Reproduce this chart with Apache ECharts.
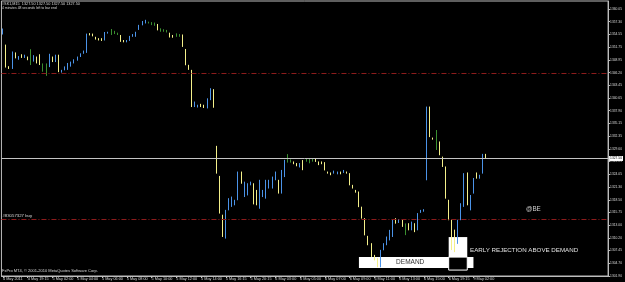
<!DOCTYPE html>
<html><head><meta charset="utf-8">
<script src="https://cdn.jsdelivr.net/npm/echarts@6/dist/echarts.min.js"></script>
<style>html,body{margin:0;padding:0;background:#000}#c{width:625px;height:282px}</style>
</head><body><div id="c"></div>
<script>
const xTickLabels = ["4 May 2011","4 May 19:15","5 May 02:00","5 May 04:00","5 May 06:00","5 May 08:00","5 May 10:00","5 May 12:00","5 May 14:00","5 May 16:15","5 May 20:15","6 May 03:00","6 May 05:00","6 May 07:00","6 May 09:00","6 May 11:00","6 May 13:00","6 May 15:00","6 May 19:15","9 May 02:00"];
const yTickLabels = [1301.90,1304.70,1307.45,1310.20,1313.00,1315.75,1318.50,1321.30,1324.05,1326.85,1329.60,1332.35,1335.15,1337.90,1340.65,1343.45,1346.20,1348.95,1351.75,1354.55,1357.30,1360.05];

const openP = [
1354.6,1352.2,1347.5,1347.1,1350.6,1349.1,1350.2,1349.5,1349.65,1349.3,
1348.95,1349.65,1348.95,1347.3,1346.5,1347.5,1349.65,1348.6,1350.0,1346.3,
1346.75,1346.9,1347.6,1348.2,1348.8,1349.65,1350.4,1350.5,1354.75,1354.6,
1354.0,1353.65,1353.65,1353.3,1354.75,1355.0,1354.9,1354.6,1354.4,1353.3,
1352.9,1353.15,1354.0,1354.0,1355.6,1356.55,1356.9,1357.1,1356.9,1356.75,
1356.8,1355.6,1355.4,1355.2,1354.9,1354.4,1354.2,1354.3,1354.4,1351.3,
1347.85,1346.75,1338.75,1338.65,1339.35,1339.1,1338.4,1340.2,1342.55,1330.2,
1323.65,1315.2,1310.1,1316.25,1317.0,1317.35,1318.45,1324.6,1319.15,1319.5,
1321.7,1322.05,1320.6,1316.6,1319.15,1318.8,1321.0,1321.0,1322.8,1322.8,
1319.9,1323.5,1327.6,1326.9,1326.8,1326.45,1325.6,1326.3,1327.3,1327.1,
1327.2,1327.5,1326.8,1326.8,1326.65,1324.6,1324.4,1324.25,1324.1,1324.6,
1324.4,1324.6,1324.25,1321.7,1320.6,1320.25,1316.95,1314.45,1310.6,1309.0,
1306.45,1305.75,1303.85,1307.55,1308.65,1309.7,1310.45,1314.45,1313.5,1314.25,
1313.0,1313.35,1311.9,1313.35,1311.9,1315.7,1315.95,1322.8,1338.75,1332.0,
1331.0,1331.15,1327.85,1325.7,1318.45,1314.1,1311.9,1309.0,1314.1,1317.0,
1324.4,1316.25,1319.9,1324.4,1323.15,1324.25,1328.45];
const closeP = [
1355.7,1347.4,1347.1,1350.8,1349.3,1349.65,1349.5,1350.0,1348.95,1349.3,
1349.45,1348.2,1348.1,1347.3,1346.5,1350.25,1348.6,1350.0,1346.4,1346.75,
1347.5,1348.2,1348.6,1349.1,1349.65,1350.4,1351.0,1354.6,1354.4,1354.2,
1353.45,1353.3,1353.15,1355.0,1355.05,1355.0,1354.9,1354.6,1352.9,1352.9,
1353.2,1354.2,1354.6,1355.1,1356.55,1357.4,1357.65,1357.1,1356.9,1356.75,
1355.5,1355.6,1355.4,1355.2,1353.9,1353.9,1354.2,1354.3,1351.85,1347.85,
1346.9,1338.75,1339.85,1339.15,1338.75,1338.6,1340.6,1342.8,1338.6,1324.25,
1315.55,1310.45,1316.25,1318.8,1319.15,1318.45,1324.6,1322.05,1322.4,1322.05,
1322.4,1317.55,1317.35,1322.8,1320.6,1322.8,1322.8,1323.5,1324.6,1319.9,
1324.95,1327.15,1327.6,1326.9,1326.3,1325.85,1326.45,1325.0,1327.3,1327.1,
1327.2,1326.8,1326.1,1326.3,1324.95,1324.25,1323.9,1324.8,1324.6,1324.1,
1324.95,1324.25,1321.7,1321.0,1320.1,1316.95,1314.45,1310.8,1308.65,1306.1,
1305.35,1303.85,1307.55,1309.0,1310.45,1311.9,1314.1,1313.35,1314.25,1312.65,
1313.0,1311.9,1313.7,1311.5,1315.55,1316.25,1316.4,1338.75,1332.2,1331.65,
1331.0,1328.25,1325.7,1318.8,1314.1,1310.45,1309.35,1314.1,1317.7,1324.25,
1317.35,1319.5,1323.2,1323.15,1323.9,1328.45,1327.5];
const lowP = [
1354.5,1347.3,1347.0,1347.0,1349.3,1349.0,1349.4,1349.4,1348.9,1347.85,
1348.6,1348.2,1347.85,1346.4,1345.5,1347.4,1348.5,1348.5,1346.3,1346.2,
1346.7,1346.8,1347.5,1348.2,1348.8,1349.6,1350.3,1350.5,1354.3,1354.1,
1353.4,1353.2,1353.1,1353.2,1354.7,1354.4,1354.6,1354.4,1352.9,1352.8,
1352.8,1353.1,1354.0,1354.0,1355.5,1356.5,1356.9,1356.9,1356.55,1356.4,
1355.4,1355.1,1355.1,1354.95,1353.85,1353.8,1354.0,1354.0,1351.8,1347.8,
1346.8,1338.7,1338.7,1338.6,1338.7,1338.5,1338.4,1340.2,1338.55,1324.2,
1315.5,1310.4,1310.05,1316.2,1316.95,1317.3,1318.4,1322.0,1319.1,1319.45,
1321.65,1317.5,1317.3,1316.55,1319.1,1318.75,1320.95,1320.95,1322.75,1319.85,
1319.85,1323.45,1326.6,1326.6,1326.25,1325.8,1325.55,1324.95,1326.8,1326.45,
1326.8,1326.75,1326.05,1326.25,1324.9,1324.2,1323.85,1324.2,1324.05,1324.05,
1324.35,1324.2,1321.65,1320.95,1320.05,1316.9,1314.4,1310.75,1308.6,1306.05,
1305.3,1303.8,1303.8,1307.5,1308.6,1309.65,1310.4,1313.3,1313.45,1312.6,
1310.8,1311.85,1311.85,1311.45,1311.85,1315.65,1315.9,1322.75,1332.15,1331.6,
1329.35,1328.2,1325.65,1318.75,1314.05,1307.55,1307.1,1308.9,1314.05,1316.95,
1317.3,1316.2,1319.85,1323.1,1323.1,1324.2,1327.45];
const highP = [
1355.8,1352.3,1347.6,1350.8,1350.6,1349.8,1350.2,1350.1,1349.7,1351.3,
1350.0,1349.7,1350.2,1348.2,1348.2,1350.3,1349.7,1350.1,1350.1,1346.8,
1347.55,1348.3,1348.6,1349.1,1349.7,1350.4,1351.0,1354.7,1354.8,1354.7,
1354.0,1353.7,1353.7,1355.05,1355.1,1355.7,1355.3,1354.9,1354.4,1353.3,
1353.3,1354.2,1354.6,1355.1,1356.6,1357.45,1357.7,1357.3,1357.2,1357.1,
1356.8,1355.85,1355.65,1355.5,1354.9,1354.4,1354.75,1354.6,1354.5,1351.35,
1347.9,1346.8,1339.9,1339.2,1339.4,1339.2,1340.6,1342.8,1342.6,1330.25,
1323.7,1315.25,1316.3,1318.85,1319.2,1318.5,1324.65,1324.65,1322.45,1322.1,
1322.45,1322.1,1320.65,1322.85,1320.65,1322.85,1322.85,1323.55,1324.65,1322.85,
1325.0,1327.2,1328.45,1327.3,1326.85,1326.5,1326.5,1327.15,1327.5,1327.5,
1327.5,1327.55,1326.85,1326.85,1326.7,1324.65,1324.45,1324.85,1324.65,1324.65,
1325.0,1324.65,1324.3,1321.75,1320.65,1320.3,1317.0,1314.5,1310.65,1309.05,
1306.5,1305.8,1307.6,1309.05,1310.5,1311.95,1314.15,1314.5,1314.3,1314.3,
1313.35,1313.4,1313.75,1313.4,1315.6,1316.3,1316.45,1338.8,1338.8,1332.05,
1333.7,1331.2,1327.9,1325.75,1318.5,1314.15,1312.0,1314.15,1317.75,1324.3,
1324.45,1319.55,1323.25,1324.45,1323.95,1328.5,1328.5];

const lastPrice = 1327.50;
const buyLevel = 1314.3;
const upperLevel = 1346.0;
const demandZone = [1306.02, 1303.63];
const rejectionZone = [1310.38, 1306.02];
const overlapZone = [1306.02, 1303.19];

const N_SLOTS = 196;
const categories = [];
for (let i = 0; i < N_SLOTS; i++) {
  const k = i / 8;
  categories.push(Number.isInteger(k) && k < xTickLabels.length ? xTickLabels[k] : 'bar' + i);
}
const BLUE = '#4b93e8', YELLOW = '#f4f08a', GREEN = '#3a8f30';
const FONT = 'Liberation Sans';
const seriesData = openP.map((o, i) => {
  const v = [o, closeP[i], lowP[i], highP[i]];
  return o === closeP[i] ? {value: v, itemStyle: {color: GREEN, color0: GREEN, borderColor: GREEN, borderColor0: GREEN}} : v;
});
const showTick = (idx, val) => xTickLabels.includes(val);

const chart = echarts.init(document.getElementById('c'), null, {renderer: 'canvas'});
chart.setOption({
  animation: false,
  backgroundColor: '#000',
  grid: {left: 0, right: 14, top: 1, bottom: 6, show: true, borderColor: '#bdbdbd', borderWidth: 1, backgroundColor: '#000'},
  xAxis: {
    type: 'category', data: categories, boundaryGap: true,
    axisLine: {lineStyle: {color: '#bdbdbd', width: 1}},
    axisTick: {show: true, interval: showTick, alignWithLabel: true, length: 2, lineStyle: {color: '#bdbdbd'}},
    axisLabel: {interval: showTick, align: 'left', margin: 1, fontSize: 3.8, color: '#d8d8d8', fontFamily: FONT},
    splitLine: {show: false}
  },
  yAxis: {
    type: 'value', position: 'right', min: 1301.9, max: 1361.8, scale: true,
    axisLine: {show: true, lineStyle: {color: '#bdbdbd', width: 1}},
    axisTick: {show: true, customValues: yTickLabels, length: 2, lineStyle: {color: '#bdbdbd'}},
    axisLabel: {customValues: yTickLabels, formatter: v => v.toFixed(2), margin: 2, fontSize: 3.3, color: '#d8d8d8', fontFamily: FONT},
    splitLine: {show: false}
  },
  series: [{
    type: 'candlestick',
    data: seriesData,
    barWidth: 1,
    itemStyle: {color: BLUE, color0: YELLOW, borderColor: BLUE, borderColor0: YELLOW, borderWidth: 1},
    markArea: {
      silent: true,
      data: [
        [{xAxis: categories[115], yAxis: demandZone[0], itemStyle: {color: '#ffffff'},
          label: {show: true, position: 'inside', formatter: 'DEMAND', color: '#333', fontSize: 6.5, fontFamily: FONT, offset: [-6, 0]}},
         {xAxis: categories[152], yAxis: demandZone[1]}],
        [{xAxis: categories[144], yAxis: rejectionZone[0], itemStyle: {color: '#ffffff'}},
         {xAxis: categories[150], yAxis: rejectionZone[1]}],
        [{xAxis: categories[144], yAxis: overlapZone[0], itemStyle: {color: '#000000', borderColor: '#ffffff', borderWidth: 1}},
         {xAxis: categories[150], yAxis: overlapZone[1]}]
      ]
    },
    markLine: {
      silent: true, symbol: 'none',
      data: [
        {yAxis: upperLevel, lineStyle: {color: '#8c1c1c', type: [5, 2, 1, 2], width: 1}, label: {show: false}},
        {yAxis: buyLevel, lineStyle: {color: '#8c1c1c', type: [5, 2, 1, 2], width: 1},
         label: {show: true, position: 'insideStartTop', formatter: '#83057327 buy', color: '#d8d8d8', fontSize: 4.3, fontFamily: FONT, distance: 1}},
        {yAxis: lastPrice, lineStyle: {color: '#c4c4c4', type: 'solid', width: 1},
         label: {show: true, position: 'end', formatter: lastPrice.toFixed(2), color: '#000', backgroundColor: '#fff', fontSize: 3.3, fontFamily: FONT, padding: [1, 1], distance: 1}}
      ]
    }
  }],
  graphic: [
    {type: 'text', left: 2, top: 2, style: {text: '#SK1,M15  1327.50 1327.50 1327.50 1327.50', fill: '#d8d8d8', fontSize: 3.8, fontFamily: FONT}},
    {type: 'text', left: 2, top: 7, style: {text: '4 minutes 48 seconds left to bar end', fill: '#d8d8d8', fontSize: 3.4, fontFamily: FONT}},
    {type: 'text', left: 2, top: 269, style: {text: 'FxPro MT4, \u00a9 2001-2010 MetaQuotes Software Corp.', fill: '#d8d8d8', fontSize: 4, fontFamily: FONT}},
    {type: 'text', left: 470, top: 247, style: {text: 'EARLY REJECTION ABOVE DEMAND', fill: '#e0e0e0', fontSize: 6.2, fontFamily: FONT}},
    {type: 'text', left: 526, top: 206.5, style: {text: '@BE', fill: '#cfcfcf', fontSize: 6.3, fontFamily: FONT}}
  ]
});
</script>
</body></html>
